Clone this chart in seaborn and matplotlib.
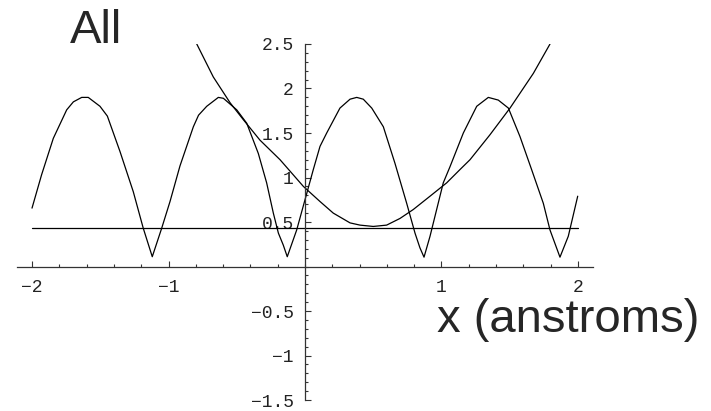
import matplotlib
matplotlib.use("Agg")
import matplotlib.pyplot as plt
import seaborn as sns
import pandas as pd
from matplotlib.ticker import FixedLocator, MultipleLocator, FixedFormatter

# Periodic band curve (sampled)
band_x = [-2.0, -1.93, -1.844, -1.746, -1.697, -1.636, -1.588, -1.502, -1.448,
          -1.355, -1.258, -1.185, -1.119, -1.05, -0.989, -0.916, -0.818, -0.78,
          -0.72, -0.635, -0.598, -0.50, -0.427, -0.342, -0.281, -0.232, -0.195,
          -0.159, -0.13, -0.061, 0.0, 0.061, 0.11, 0.159, 0.256, 0.33, 0.379,
          0.427, 0.489, 0.574, 0.659, 0.745, 0.806, 0.842, 0.872, 0.916, 1.013,
          1.062, 1.16, 1.258, 1.343, 1.416, 1.49, 1.575, 1.66, 1.746, 1.795,
          1.868, 1.929, 1.998]
band_y = [0.656, 1.03, 1.44, 1.76, 1.85, 1.90, 1.90, 1.80, 1.69,
          1.29, 0.84, 0.43, 0.11, 0.43, 0.73, 1.13, 1.57, 1.70,
          1.80, 1.90, 1.89, 1.76, 1.61, 1.27, 0.94, 0.60, 0.375,
          0.24, 0.11, 0.41, 0.75, 1.09, 1.35, 1.50, 1.78, 1.88, 1.90,
          1.88, 1.78, 1.57, 1.16, 0.71, 0.375, 0.21, 0.105, 0.34, 0.94,
          1.12, 1.50, 1.80, 1.90, 1.87, 1.78, 1.46, 1.09, 0.71, 0.41,
          0.105, 0.34, 0.79]

# Potential well curve (sampled)
well_x = [-0.793, -0.672, -0.549, -0.452, -0.33, -0.183, -0.012, 0.11, 0.207,
          0.33, 0.403, 0.50, 0.598, 0.696, 0.793, 0.916, 1.038, 1.136, 1.209,
          1.355, 1.502, 1.673, 1.795]
well_y = [2.50, 2.13, 1.84, 1.65, 1.42, 1.20, 0.90, 0.73, 0.60,
          0.49, 0.465, 0.45, 0.465, 0.54, 0.64, 0.79, 0.94, 1.09, 1.20,
          1.48, 1.78, 2.17, 2.50]

# Constant level
level_x = [-2.0, 2.0]
level_y = [0.43, 0.43]

x_ticks = [-2, -1, 1, 2]
x_labels = ["\u22122", "\u22121", "1", "2"]
y_ticks = [-1.5, -1, -0.5, 0.5, 1, 1.5, 2, 2.5]
y_labels = ["\u22121.5", "\u22121", "\u22120.5", "0.5", "1", "1.5", "2", "2.5"]

sns.set_style("white")
plt.rcParams["font.family"] = ["Liberation Sans", "DejaVu Sans"]

fig = plt.figure(figsize=(7.11, 4.11), dpi=100)
ax = fig.add_axes([17 / 711, 11 / 411, 576 / 711, 356 / 411])

line_kw = dict(color="black", linewidth=0.9, sort=False, estimator=None, ax=ax)
sns.lineplot(data=pd.DataFrame({"x": band_x, "y": band_y}), x="x", y="y", **line_kw)
sns.lineplot(data=pd.DataFrame({"x": well_x, "y": well_y}), x="x", y="y", **line_kw)
sns.lineplot(data=pd.DataFrame({"x": level_x, "y": level_y}), x="x", y="y", **line_kw)

ax.set_xlim(-2.11, 2.11)
ax.set_ylim(-1.5, 2.5)
ax.set_xlabel("")
ax.set_ylabel("")

# Axes crossing at the origin
for side in ("top", "right"):
    ax.spines[side].set_visible(False)
ax.spines["left"].set_position(("data", 0))
ax.spines["bottom"].set_position(("data", 0))
for side in ("left", "bottom"):
    ax.spines[side].set_color("#333333")
    ax.spines[side].set_linewidth(0.9)

ax.xaxis.set_major_locator(FixedLocator(x_ticks))
ax.xaxis.set_major_formatter(FixedFormatter(x_labels))
ax.xaxis.set_minor_locator(MultipleLocator(0.2))
ax.yaxis.set_major_locator(FixedLocator(y_ticks))
ax.yaxis.set_major_formatter(FixedFormatter(y_labels))
ax.yaxis.set_minor_locator(MultipleLocator(0.1))

ax.tick_params(axis="both", which="both", direction="in", color="#333333",
               width=0.8, bottom=True, left=True, top=False, right=False)
ax.tick_params(axis="both", which="major", length=4.5)
ax.tick_params(axis="both", which="minor", length=2.5)
ax.tick_params(axis="x", which="major", pad=9, labelsize=13)
ax.tick_params(axis="y", which="major", pad=8, labelsize=13)
for lbl in ax.get_xticklabels() + ax.get_yticklabels():
    lbl.set_fontfamily(["Liberation Mono", "DejaVu Sans Mono"])
    lbl.set_color("#222222")

fig.text(70 / 711, 1 - 43 / 411, "All", fontsize=34, ha="left", va="baseline")
fig.text(437 / 711, 1 - 332 / 411, "x (anstroms)", fontsize=34, ha="left", va="baseline")

fig.savefig("out.png", dpi=100)
